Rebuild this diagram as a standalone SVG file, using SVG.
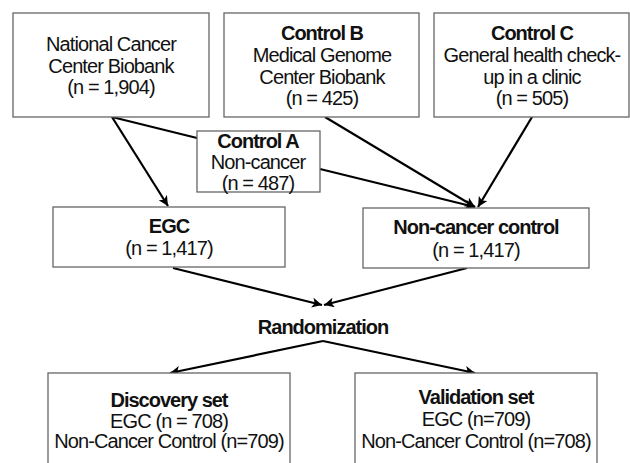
<svg xmlns="http://www.w3.org/2000/svg" width="630" height="463" viewBox="0 0 630 463">
<style>
.box{fill:#fff;stroke:#666;stroke-width:1.3}
text{font-family:"Liberation Sans",Arial,sans-serif;font-size:20px;letter-spacing:-0.9px;fill:#111;text-anchor:middle}
.b{font-weight:bold;letter-spacing:-1px}
.c{fill:none;stroke:#000;stroke-width:2.2}
</style>
<defs>
<marker id="ah" markerUnits="userSpaceOnUse" markerWidth="12" markerHeight="10" refX="10" refY="5" orient="auto">
<path d="M0,0 L10,5 L0,10 L2.5,5 Z" fill="#000"/>
</marker>
</defs>
<rect width="630" height="463" fill="#fff"/>
<g id="connectors">
<line class="c" x1="112" y1="117" x2="168" y2="206" marker-end="url(#ah)"/>
<line class="c" x1="112" y1="117" x2="197" y2="138"/>
<line class="c" x1="320" y1="169" x2="475" y2="207" marker-end="url(#ah)"/>
<line class="c" x1="325" y1="117" x2="475" y2="207" marker-end="url(#ah)"/>
<line class="c" x1="532" y1="117" x2="478" y2="207" marker-end="url(#ah)"/>
<line class="c" x1="173" y1="268" x2="322" y2="305" marker-end="url(#ah)"/>
<line class="c" x1="467" y1="268" x2="324" y2="305" marker-end="url(#ah)"/>
<line class="c" x1="323" y1="341" x2="170" y2="373" marker-end="url(#ah)"/>
<line class="c" x1="323" y1="341" x2="475" y2="373" marker-end="url(#ah)"/>
</g>
<g id="ncc">
<rect class="box" x="13" y="13" width="196" height="104"/>
<text x="111" y="51">National Cancer</text>
<text x="111" y="73">Center Biobank</text>
<text x="111" y="94">(n = 1,904)</text>
</g>
<g id="controlB">
<rect class="box" x="224" y="13" width="195" height="104"/>
<text class="b" x="322" y="40">Control B</text>
<text x="322" y="62">Medical Genome</text>
<text x="322" y="84">Center Biobank</text>
<text x="322" y="105">(n = 425)</text>
</g>
<g id="controlC">
<rect class="box" x="434" y="13" width="195" height="104"/>
<text class="b" x="532" y="40">Control C</text>
<text x="532" y="62">General health check-</text>
<text x="532" y="84">up in a clinic</text>
<text x="532" y="105">(n = 505)</text>
</g>
<g id="controlA">
<rect class="box" x="197" y="131" width="123" height="61"/>
<text class="b" x="258" y="148">Control A</text>
<text x="258" y="169">Non-cancer</text>
<text x="258" y="190">(n = 487)</text>
</g>
<g id="egc">
<rect class="box" x="53" y="207" width="232" height="60"/>
<text class="b" x="169" y="233">EGC</text>
<text x="169" y="255">(n = 1,417)</text>
</g>
<g id="noncancer">
<rect class="box" x="363" y="208" width="226" height="60"/>
<text class="b" x="476" y="234">Non-cancer control</text>
<text x="476" y="257">(n = 1,417)</text>
</g>
<g id="randomization">
<text class="b" x="323" y="334">Randomization</text>
</g>
<g id="discovery">
<rect class="box" x="48" y="373" width="242" height="100"/>
<text class="b" x="169" y="407">Discovery set</text>
<text x="169" y="428">EGC (n = 708)</text>
<text x="169" y="448">Non-Cancer Control (n=709)</text>
</g>
<g id="validation">
<rect class="box" x="355" y="373" width="242" height="100"/>
<text class="b" x="476" y="404">Validation set</text>
<text x="476" y="426">EGC (n=709)</text>
<text x="476" y="448">Non-Cancer Control (n=708)</text>
</g>
</svg>
